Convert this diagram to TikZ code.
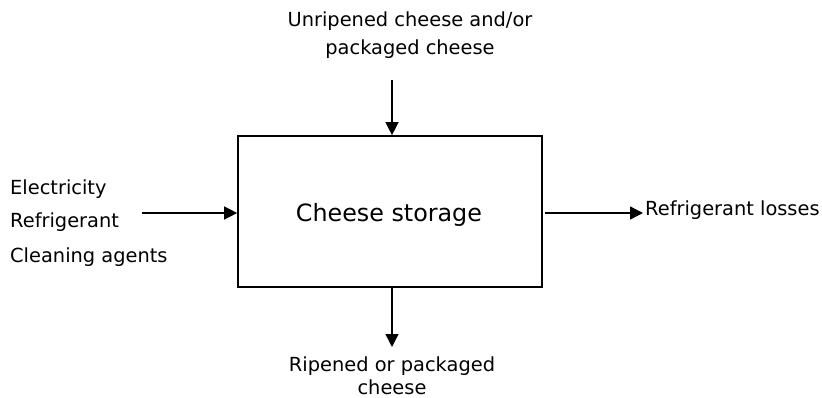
\documentclass[tikz,border=0pt]{standalone}
\usepackage{fontspec}
\setmainfont{DejaVu Sans}
\usetikzlibrary{arrows.meta}
\begin{document}
\begin{tikzpicture}[x=1pt,y=-1pt,
  lbl/.style={inner sep=0pt,font=\fontsize{19.4}{24}\selectfont},
  procbox/.style={draw,line width=1.7pt,minimum width=304pt,minimum height=151pt,inner sep=0pt},
  arr/.style={line width=1.4pt,-{Triangle[length=13pt,width=13pt]}}]
\useasboundingbox (0,0) rectangle (822,398);
\node[procbox] (box) at (390,211.5) {};
\node[lbl,anchor=base,font=\fontsize{23.8}{28}\selectfont] (title) at (389,222) {Cheese storage};
% top input
\node[lbl,anchor=base] (top1) at (410,27) {Unripened cheese and/or};
\node[lbl,anchor=base] (top2) at (410,55) {packaged cheese};
\coordinate (topstart) at (392,80);
\draw[arr] (topstart) -- (topstart |- box.north);
% bottom output
\coordinate (botend) at (392,347);
\draw[arr] (botend |- box.south) -- (botend);
\node[lbl,anchor=base] (bot1) at (392,371) {Ripened or packaged};
\node[lbl,anchor=base] (bot2) at (392,394) {cheese};
% left inputs
\node[lbl,anchor=base west] (in1) at (10,195) {Electricity};
\node[lbl,anchor=base west] (in2) at (10,228) {Refrigerant};
\node[lbl,anchor=base west] (in3) at (10,262) {Cleaning agents};
\coordinate (leftstart) at (142,213);
\draw[arr] (leftstart) -- (leftstart -| box.west);
% right output
\node[lbl,anchor=base west] (out1) at (645,216) {Refrigerant losses};
\coordinate (rightstart) at (545,213);
\coordinate (rightend) at (643,213);
\draw[arr] (rightstart) -- (rightend);
\end{tikzpicture}
\end{document}
